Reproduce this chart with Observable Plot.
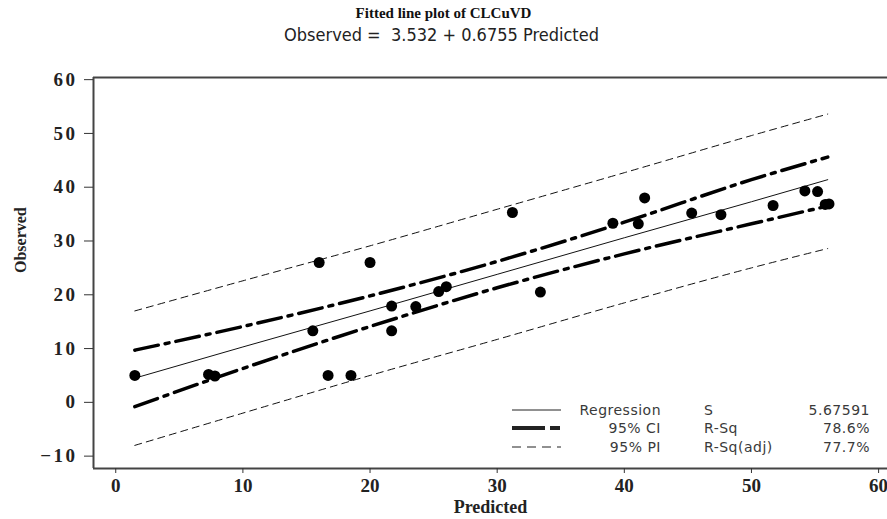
<!DOCTYPE html>
<html>
<head>
<meta charset="utf-8">
<script src="https://cdn.jsdelivr.net/npm/d3@7"></script>
<script src="https://cdn.jsdelivr.net/npm/@observablehq/plot@0.6"></script>
<style>
  html, body { margin: 0; padding: 0; background: #fff; }
  #wrap { position: relative; width: 887px; height: 519px; overflow: hidden; }
  #head { position: relative; width: 887px; height: 50px; }
  #title { position: absolute; left: 0; width: 887px; top: 5px; text-align: center;
           font-family: "Liberation Serif", serif; font-weight: bold; font-size: 15px; color: #111; }
  #subtitle { position: absolute; left: 0; width: 883px; top: 24px; text-align: center;
           font-family: "Liberation Sans Narrow", "DejaVu Sans Condensed", sans-serif; font-size: 18px; color: #222; }
  #chart svg { display: block; }
</style>
</head>
<body>
<div id="wrap">
  <div id="head">
    <div id="title">Fitted line plot of CLCuVD</div>
    <div id="subtitle">Observed =&nbsp;&nbsp;3.532 + 0.6755 Predicted</div>
  </div>
  <div id="chart"></div>
</div>
<script>
// Observed points (Predicted, Observed)
const obsPredicted = [1.5, 7.3, 7.8, 16.0, 20.0, 15.5, 16.7, 18.5, 21.7, 21.7, 23.6, 25.4, 26.0,
                      31.2, 33.4, 41.6, 39.1, 41.1, 45.3, 47.6, 51.7, 54.2, 55.2, 55.8, 56.1];
const obsObserved  = [5.0, 5.2, 4.9, 26.0, 26.0, 13.3, 5.0, 5.0, 17.9, 13.3, 17.8, 20.6, 21.5,
                      35.3, 20.5, 38.0, 33.3, 33.2, 35.2, 34.9, 36.6, 39.3, 39.2, 36.8, 36.9];

// Fitted line and bands
const bandX   = [1.5, 10, 20, 30, 40, 50, 56];
const fitY    = [4.5, 10.3, 17.0, 23.8, 30.6, 37.3, 41.4];
const ciUpper = [9.7, 14.1, 19.8, 26.2, 33.5, 41.4, 45.6];
const ciLower = [-0.8, 6.3, 14.1, 21.3, 27.6, 33.2, 36.5];
const piUpper = [17.0, 22.6, 29.1, 35.9, 42.7, 49.6, 53.6];
const piLower = [-8.0, -2.0, 5.0, 11.7, 18.5, 25.0, 28.6];

const xTicks = [0, 10, 20, 30, 40, 50, 60];
const yTicks = [-10, 0, 10, 20, 30, 40, 50, 60];
const xDomain = [-1.75, 60.7];
const yDomain = [-12.3, 60.4];

const legendRows = [
  {name: "Regression", stat: "S", value: "5.67591"},
  {name: "95% CI", stat: "R-Sq", value: "78.6%"},
  {name: "95% PI", stat: "R-Sq(adj)", value: "77.7%"}
];

const points = obsPredicted.map((p, i) => ({x: p, y: obsObserved[i]}));
const series = (ys) => bandX.map((x, i) => ({x, y: ys[i]}));

const serif = "Liberation Serif, Times New Roman, serif";

const plot = Plot.plot({
  width: 887,
  height: 469,
  marginTop: 27,
  marginBottom: 51,
  marginLeft: 93,
  marginRight: 0,
  style: {fontFamily: serif, fontWeight: "bold", color: "#222", background: "#fff", fontSize: "18px"},
  x: {domain: xDomain, label: null},
  y: {domain: yDomain, label: null},
  marks: [
    Plot.ruleY([yDomain[0], yDomain[1]], {stroke: "#444", strokeWidth: 2}),
    Plot.ruleX([xDomain[0]], {stroke: "#444", strokeWidth: 2}),
    Plot.axisX(xTicks, {tickSize: 5, tickPadding: 5, fontSize: 19, stroke: "#333"}),
    Plot.axisY(yTicks, {tickSize: 9, tickPadding: 7, fontSize: 19, stroke: "#333"}),
    Plot.line(series(piUpper), {x: "x", y: "y", stroke: "#111", strokeWidth: 1, strokeDasharray: "7,5", curve: "monotone-x"}),
    Plot.line(series(piLower), {x: "x", y: "y", stroke: "#111", strokeWidth: 1, strokeDasharray: "7,5", curve: "monotone-x"}),
    Plot.line(series(ciUpper), {x: "x", y: "y", stroke: "#000", strokeWidth: 3.5, strokeDasharray: "24,7,4,7", curve: "monotone-x"}),
    Plot.line(series(ciLower), {x: "x", y: "y", stroke: "#000", strokeWidth: 3.5, strokeDasharray: "24,7,4,7", curve: "monotone-x"}),
    Plot.line(series(fitY), {x: "x", y: "y", stroke: "#111", strokeWidth: 1}),
    Plot.dot(points, {x: "x", y: "y", r: 5.5, fill: "#000", stroke: "none"}),
    Plot.text(["Predicted"], {frameAnchor: "bottom", dy: 44, fontSize: 18, fill: "#222"}),
    Plot.text(["Observed"], {frameAnchor: "left", dx: -73, rotate: -90, fontSize: 16, fill: "#222"})
  ]
});

document.getElementById("chart").appendChild(plot);

// letter spacing on y tick labels
d3.select(plot).selectAll('g[aria-label="y-axis tick label"] text').style("letter-spacing", "2.5px");

// Legend
const svg = d3.select(plot);
const lg = svg.append("g").attr("font-family", "DejaVu Sans, Verdana, sans-serif").attr("font-size", 14)
  .attr("font-weight", "normal").attr("fill", "#3a3a3a").style("letter-spacing", "0.5px");
const rowY = [360, 378, 397];
const styles = [
  {w: 1, dash: null},
  {w: 4, dash: "33,5,10"},
  {w: 1.2, dash: "9,6"}
];
legendRows.forEach((r, i) => {
  const y = rowY[i];
  const ln = lg.append("line").attr("x1", 512).attr("x2", 561).attr("y1", y).attr("y2", y)
    .attr("stroke", "#222").attr("stroke-width", styles[i].w);
  if (styles[i].dash) ln.attr("stroke-dasharray", styles[i].dash);
  lg.append("text").attr("x", 661).attr("y", y + 5).attr("text-anchor", "end").text(r.name);
  lg.append("text").attr("x", 704).attr("y", y + 5).attr("text-anchor", "start").text(r.stat);
  lg.append("text").attr("x", 870).attr("y", y + 5).attr("text-anchor", "end").text(r.value);
});
</script>
</body>
</html>
